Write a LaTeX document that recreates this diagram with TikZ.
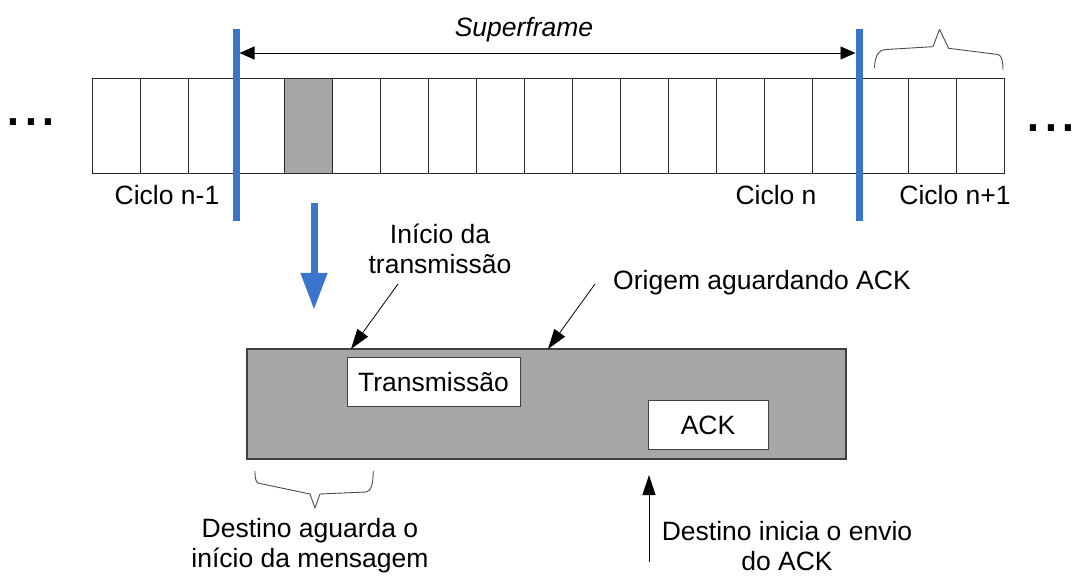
\documentclass[tikz,border=0pt]{standalone}
\usepackage{fontspec}
\setmainfont{Liberation Sans}
\usetikzlibrary{arrows.meta,positioning}
\definecolor{barblue}{RGB}{56,118,204}
\definecolor{boxgray}{RGB}{166,166,166}

\begin{document}
\begin{tikzpicture}[x=1pt,y=-1pt,
  every node/.style={font=\fontsize{26.5}{30}\selectfont,inner sep=0pt,align=center},
  slot/.style={draw=black!85,minimum width=48pt,minimum height=95pt,line width=0.8pt},
  whitebox/.style={draw=black!75,fill=white,line width=1pt},
  bluebar/.style={draw=barblue,line width=7pt},
  pointer/.style={-{Triangle[length=20pt,width=13pt]},line width=0.8pt},
  curly/.style={draw=black!70,line width=0.9pt,line join=round}]

\useasboundingbox (0,0) rectangle (1077,577);

% the slots of the frame
\foreach \i in {1,...,19}
  \node[slot] (s\i) at ({68+48*\i},125.5) {};
\node[slot,fill=boxgray] (s5) at (308,125.5) {};

\node[anchor=base,font=\fontsize{64}{64}\selectfont] (0) at (31,126) {...};
\node[anchor=base,font=\fontsize{64}{64}\selectfont] (00) at (1051,132) {...};

% cycle limits
\coordinate (b1) at (236,29);
\coordinate (b2) at (236,221);
\coordinate (b3) at (859,29);
\coordinate (b4) at (859,221);
\draw[bluebar] (b1) -- (b2);
\draw[bluebar] (b3) -- (b4);

\coordinate (f1) at (239.5,53);
\coordinate (f2) at (855.5,53);
\draw[{Triangle[length=15pt,width=13pt]}-{Triangle[length=15pt,width=13pt]},line width=0.8pt] (f1) -- (f2);
\node[anchor=base] (1) at (524,37) {\textit{Superframe}};

\node[anchor=base] (2) at (167,205) {Ciclo n-1};
\node[anchor=base] (3) at (776,205) {Ciclo n};
\node[anchor=base] (4) at (955,205) {Ciclo n+1};

\draw[curly] (874.5,68) .. controls (875,56) and (878,50) .. (886,49.5) -- (933,46.7) -- (939.5,29.3) -- (948.6,48.3) -- (998,54.5) .. controls (1002,55.5) and (1003,62) .. (1003,70);

% zoomed slot
\coordinate (d1) at (314,203);
\coordinate (d2) at (314,310);
\draw[bluebar,-{Triangle[length=37pt,width=25pt]}] (d1) -- (d2);

\node[draw=black!75,fill=boxgray,line width=1.2pt,minimum width=599pt,minimum height=110pt] (box) at (546.5,404) {};
\node[whitebox,minimum width=173pt,minimum height=49pt] (tx) at (433.5,382.5) {Transmissão};
\node[whitebox,minimum width=120pt,minimum height=48pt] (ack) at (708,425) {ACK};

\node (5) at (440,248.5) {Início da\\transmissão};
\node[anchor=base] (6) at (762,290) {Origem aguardando ACK};
\coordinate (a1) at (398,284);
\coordinate (a2) at (351,349);
\coordinate (a3) at (595,284);
\coordinate (a4) at (548,349);
\draw[pointer] (a1) -- (a2);
\draw[pointer] (a3) -- (a4);

\draw[curly] (255,471) .. controls (255,480) and (256,483) .. (260,483.5) -- (310,494) -- (315,508) -- (320,494) -- (366,492) .. controls (371,491) and (373,485) .. (373.3,471);
\node (7) at (310,546) {Destino aguarda o\\início da mensagem};

\coordinate (u1) at (649,562);
\coordinate (u2) at (649,475);
\draw[pointer] (u1) -- (u2);
\node (8) at (787,546) {Destino inicia o envio\\do ACK};

\end{tikzpicture}
\end{document}
